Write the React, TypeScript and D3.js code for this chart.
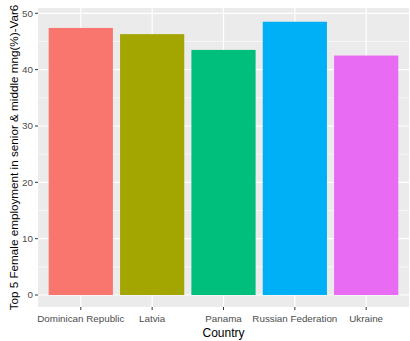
import React from "react";
import * as d3 from "d3";

const countries = ["Dominican Republic", "Latvia", "Panama", "Russian Federation", "Ukraine"];
const values = [47.4, 46.3, 43.5, 48.5, 42.5];
const colors = ["#F8766D", "#A3A500", "#00BF7D", "#00B0F6", "#E76BF3"];
const yTicks = [0, 10, 20, 30, 40, 50];

export default function App() {
  const W = 410, H = 341;
  const left = 38, right = 409, top = 8, bottom = 307;
  const x = d3.scaleBand().domain(countries).range([left, right]).paddingInner(0.1).paddingOuter(0.15);
  const y = d3.scaleLinear().domain([0, 50]).range([295, 13.3]);
  const font = "'Liberation Sans', Arial, sans-serif";
  const minor = [5, 15, 25, 35, 45];
  return (
    <svg width={W} height={H} style={{ position: "absolute", left: 0, top: 0, background: "#fff" }}>
      <rect x={left} y={top} width={right - left} height={bottom - top} fill="#EBEBEB" />
      {minor.map((t) => (
        <line key={"m" + t} x1={left} x2={right} y1={y(t)} y2={y(t)} stroke="#fff" strokeWidth={0.6} />
      ))}
      {yTicks.map((t) => (
        <line key={"g" + t} x1={left} x2={right} y1={y(t)} y2={y(t)} stroke="#fff" strokeWidth={1.2} />
      ))}
      {countries.map((c) => (
        <line key={"v" + c} x1={x(c)! + x.bandwidth() / 2} x2={x(c)! + x.bandwidth() / 2} y1={top} y2={bottom} stroke="#fff" strokeWidth={1.2} />
      ))}
      {countries.map((c, i) => (
        <rect key={c} x={x(c)} y={y(values[i])} width={x.bandwidth()} height={y(0) - y(values[i])} fill={colors[i]} />
      ))}
      {yTicks.map((t) => (
        <g key={"t" + t}>
          <line x1={left - 3} x2={left} y1={y(t)} y2={y(t)} stroke="#333" strokeWidth={1} />
          <text x={left - 5} y={y(t)} dy="0.35em" textAnchor="end" fontSize={9.8} fill="#4D4D4D" fontFamily={font}>{t}</text>
        </g>
      ))}
      {countries.map((c) => (
        <g key={"xt" + c}>
          <line x1={x(c)! + x.bandwidth() / 2} x2={x(c)! + x.bandwidth() / 2} y1={bottom} y2={bottom + 3} stroke="#333" strokeWidth={1} />
          <text x={x(c)! + x.bandwidth() / 2} y={bottom + 12} dy="0.35em" textAnchor="middle" fontSize={9.8} fill="#4D4D4D" fontFamily={font}>{c}</text>
        </g>
      ))}
      <text x={(left + right) / 2} y={333} dy="0.35em" textAnchor="middle" fontSize={12} fill="#000" fontFamily={font}>Country</text>
      <text transform={`translate(14,${(top + bottom) / 2}) rotate(-90)`} textAnchor="middle" dy="0.35em" fontSize={11.7} fill="#000" fontFamily={font}>Top 5 Female employment in senior &amp; middle mng(%)-Var6</text>
    </svg>
  );
}
